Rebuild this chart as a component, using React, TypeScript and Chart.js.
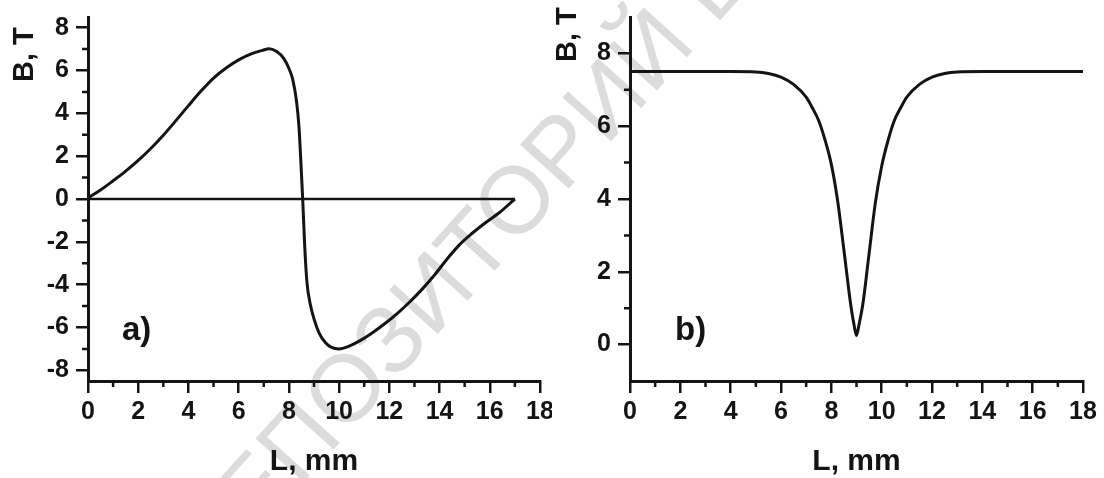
import React, { useEffect, useRef } from 'react';
import { Chart, registerables } from 'chart.js';

Chart.register(...registerables);

// ---------- data ----------
// Panel a): field B (T) along L (mm)
const aL = [0, 0.5, 1, 1.5, 2, 2.5, 3, 3.5, 4, 4.5, 5, 5.5, 6, 6.5, 7, 7.2, 7.5, 7.8, 8.0, 8.15, 8.3, 8.4, 8.47, 8.55, 8.63, 8.72, 8.85, 9.0, 9.2, 9.45, 9.7, 10.0, 10.4, 10.8, 11.3, 11.8, 12.3, 12.8, 13.3, 13.8, 14.3, 14.8, 15.3, 15.8, 16.4, 17];
const aB = [0.05, 0.42, 0.85, 1.3, 1.8, 2.36, 2.98, 3.66, 4.36, 5.04, 5.65, 6.12, 6.5, 6.78, 6.96, 7.02, 6.9, 6.56, 6.1, 5.6, 4.6, 3.4, 1.9, 0, -2.2, -3.9, -4.9, -5.6, -6.25, -6.7, -6.93, -7.0, -6.87, -6.64, -6.27, -5.84, -5.36, -4.82, -4.22, -3.55, -2.8, -2.13, -1.6, -1.13, -0.62, 0];
const zeroL = [0, 17];
const zeroB = [0, 0];

// Panel b): field B (T) along L (mm)
const bL = [0, 1, 2, 3, 4, 5, 5.5, 6, 6.5, 7, 7.25, 7.5, 7.75, 8, 8.25, 8.5, 8.75, 8.9, 9, 9.1, 9.25, 9.5, 9.75, 10, 10.25, 10.5, 10.75, 11, 11.5, 12, 12.5, 13, 14, 15, 16, 17, 18];
const bB = [7.5, 7.5, 7.5, 7.5, 7.5, 7.49, 7.45, 7.35, 7.15, 6.8, 6.5, 6.15, 5.62, 4.95, 3.95, 2.6, 1.2, 0.55, 0.25, 0.55, 1.1, 2.5, 3.9, 4.9, 5.6, 6.15, 6.5, 6.8, 7.15, 7.35, 7.45, 7.49, 7.5, 7.5, 7.5, 7.5, 7.5];

// ticks
const xTicks = [0, 2, 4, 6, 8, 10, 12, 14, 16, 18];
const xMinor = [1, 3, 5, 7, 9, 11, 13, 15, 17];
const aYTicks = [-8, -6, -4, -2, 0, 2, 4, 6, 8];
const aYMinor = [-7, -5, -3, -1, 1, 3, 5, 7];
const bYTicks = [0, 2, 4, 6, 8];
const bYMinor = [1, 3, 5, 7];

const xTitle = 'L, mm';
const yTitle = 'B, T';
const labelA = 'a)';
const labelB = 'b)';
const watermark = 'РЕПОЗИТОРИЙ Б';

// ---------- style ----------
const INK = '#141414';
const FONT = "'Liberation Sans', Arial, sans-serif";

const minorTicks = {
  id: 'minorTicks',
  afterDraw(chart: any, _args: any, opts: any) {
    const { ctx } = chart;
    const xs = chart.scales.x;
    const ys = chart.scales.y;
    ctx.save();
    ctx.strokeStyle = INK;
    ctx.lineWidth = 2.5;
    ctx.beginPath();
    (opts.x || []).forEach((v: number) => {
      const px = xs.getPixelForValue(v);
      ctx.moveTo(px, xs.top);
      ctx.lineTo(px, xs.top + opts.len);
    });
    (opts.y || []).forEach((v: number) => {
      const py = ys.getPixelForValue(v);
      ctx.moveTo(ys.right, py);
      ctx.lineTo(ys.right - opts.len, py);
    });
    ctx.stroke();
    ctx.restore();
  },
};

const panelText = {
  id: 'panelText',
  afterDraw(chart: any, _args: any, opts: any) {
    const { ctx } = chart;
    (opts.items || []).forEach((it: any) => {
      ctx.save();
      ctx.translate(it.x, it.y);
      if (it.rot) ctx.rotate(it.rot);
      ctx.font = `bold ${it.size}px ${FONT}`;
      ctx.fillStyle = INK;
      ctx.textAlign = it.align || 'left';
      ctx.textBaseline = 'middle';
      ctx.fillText(it.text, 0, 0);
      ctx.restore();
    });
  },
};

function zeroPad(s: any) {
  s.paddingLeft = 0;
  s.paddingRight = 0;
  s.paddingTop = 0;
  s.paddingBottom = 0;
}

function build(canvas: HTMLCanvasElement, p: any) {
  return new Chart(canvas, {
    type: 'line',
    data: {
      datasets: p.series.map((s: any) => ({
        data: s.xs.map((x: number, i: number) => ({ x, y: s.ys[i] })),
        borderColor: INK,
        borderWidth: s.w,
        pointRadius: 0,
        cubicInterpolationMode: 'monotone',
        fill: false,
      })),
    },
    options: {
      responsive: false,
      animation: false,
      devicePixelRatio: 1,
      layout: { padding: { top: 17, right: p.padRight, bottom: 0, left: 0 } },
      plugins: {
        legend: { display: false },
        tooltip: { enabled: false },
        minorTicks: { x: xMinor, y: p.yMinor, len: 6 },
        panelText: { items: p.texts },
      } as any,
      scales: {
        x: {
          type: 'linear',
          min: 0,
          max: 18,
          afterBuildTicks: (s: any) => {
            s.ticks = xTicks.map((v) => ({ value: v }));
          },
          afterFit: (s: any) => {
            s.height = 97;
            zeroPad(s);
          },
          grid: { drawOnChartArea: false, color: INK, lineWidth: 2.5, tickLength: 12 },
          border: { color: INK, width: 3 },
          ticks: {
            color: INK,
            font: { family: FONT, size: 25, weight: 'bold' },
            padding: 4,
            maxRotation: 0,
            autoSkip: false,
            callback: (v: any) => String(v),
          },
          title: {
            display: true,
            text: xTitle,
            color: INK,
            font: { family: FONT, size: 30, weight: 'bold', lineHeight: 1 },
            padding: { top: 0, bottom: 1 },
          },
        },
        y: {
          type: 'linear',
          min: p.yMin,
          max: p.yMax,
          afterBuildTicks: (s: any) => {
            s.ticks = p.yTicks.map((v: number) => ({ value: v }));
          },
          afterFit: (s: any) => {
            s.width = p.yWidth;
            zeroPad(s);
          },
          grid: { drawOnChartArea: false, color: INK, lineWidth: 2.5, tickLength: 12 },
          border: { color: INK, width: 3 },
          ticks: {
            color: INK,
            font: { family: FONT, size: 25, weight: 'bold' },
            padding: 7,
            autoSkip: false,
            callback: (v: any) => String(v),
          },
        },
      },
    } as any,
    plugins: [minorTicks, panelText],
  });
}

function Panel({ p, left }: { p: any; left: number }) {
  const ref = useRef<HTMLCanvasElement | null>(null);
  useEffect(() => {
    if (!ref.current) return;
    const chart = build(ref.current, p);
    return () => chart.destroy();
  }, []);
  return (
    <canvas
      ref={ref}
      width={552}
      height={478}
      style={{ position: 'absolute', left, top: 0, width: 552, height: 478 }}
    />
  );
}

const panelA = {
  series: [
    { xs: zeroL, ys: zeroB, w: 2.5 },
    { xs: aL, ys: aB, w: 3 },
  ],
  yMin: -8.5,
  yMax: 8.5,
  yTicks: aYTicks,
  yMinor: aYMinor,
  yWidth: 88,
  padRight: 12,
  texts: [
    { text: yTitle, x: 25, y: 82, size: 29, rot: -Math.PI / 2, align: 'left' },
    { text: labelA, x: 122, y: 331, size: 33, align: 'left' },
  ],
};

const panelB = {
  series: [{ xs: bL, ys: bB, w: 3 }],
  yMin: -1,
  yMax: 9,
  yTicks: bYTicks,
  yMinor: bYMinor,
  yWidth: 78,
  padRight: 21,
  texts: [
    { text: yTitle, x: 16, y: 62, size: 29, rot: -Math.PI / 2, align: 'left' },
    { text: labelB, x: 123, y: 331, size: 33, align: 'left' },
  ],
};

export default function App() {
  return (
    <div
      style={{
        position: 'fixed',
        left: 0,
        top: 0,
        width: 1104,
        height: 478,
        overflow: 'hidden',
        background: '#ffffff',
      }}
    >
      <div
        style={{
          position: 'absolute',
          left: 190,
          top: 560 - 47,
          height: 95,
          lineHeight: '95px',
          fontSize: 95,
          fontFamily: FONT,
          color: '#dcdcdc',
          whiteSpace: 'nowrap',
          transformOrigin: '0 50%',
          transform: 'rotate(-48deg)',
        }}
      >
        {watermark}
      </div>
      <Panel p={panelA} left={0} />
      <Panel p={panelB} left={552} />
    </div>
  );
}
